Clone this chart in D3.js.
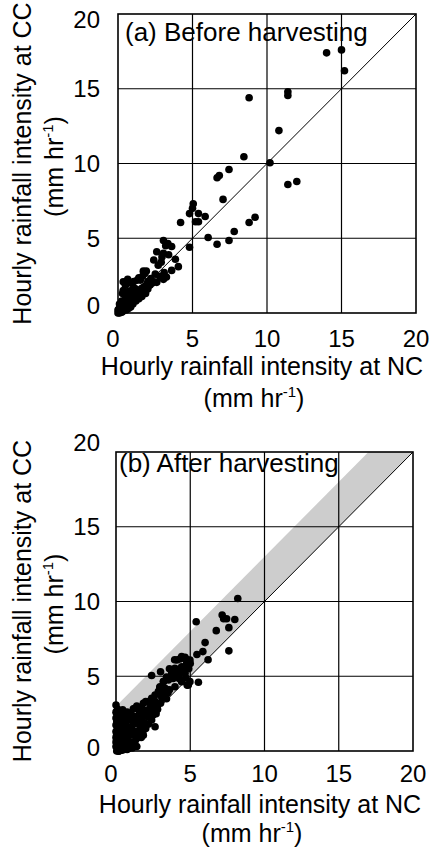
<!DOCTYPE html>
<html><head><meta charset="utf-8">
<script src="https://cdn.jsdelivr.net/npm/d3@7"></script>
<style>body{margin:0;background:#fff}svg{display:block}text{font-family:"Liberation Sans",Arial,sans-serif;fill:#000}</style>
</head><body>
<script>
// ---- data ----
const tickValues = [0, 5, 10, 15, 20];
const xTitle = "Hourly rainfall intensity at NC";
const yTitle = "Hourly rainfall intensity at CC";
const unitMain = "(mm hr", unitSup = "-1", unitEnd = ")";
const panelLabels = ["(a) Before harvesting", "(b) After harvesting"];
const bandOffset = 3; // CC = NC + 3 upper edge of grey band (panel b)

const beforeNC = [14.0,15.0,15.2,8.8,11.4,11.4,10.8,8.45,10.2,7.45,6.8,6.65,11.4,12.0,7.05,5.05,5.0,4.8,5.4,5.85,5.2,5.4,4.2,9.2,8.8,7.8,6.05,6.65,7.45,4.8,
 3.05,3.35,3.6,3.2,2.6,3.05,2.95,2.4,3.85,4.05,3.6,2.8,3.05,3.25,2.6,1.9,1.65,1.5,2.1,1.3,1.7,1.4,1.05,0.65,0.5,0.7,0.35,0.3,
 0.9,1.1,1.3,0.95,0.75,0.45,0.2,0.1,0.15,0.3,0.5,1.5,1.2,1.75,1.4,0.6,0.35,0.8,1.6,2.0,2.3,1.85,0.55,0.25,0.05,0.4,1.0,0.7,1.2,2.2,2.5,2.0,
 1.8,1.9,1.6,1.25,0.9,0.7,0.5,0.25,0.0,1.5,1.7,2.15,2.4,0.35,
 0.0,0.1,0.2,0.05,0.15,0.3,0.45,0.6,0.8,1.0,1.15,0.85,0.65,0.4,0.25,0.1,0.55,0.75,1.35,1.05,2.7,2.9,3.4,3.1];
const beforeCC = [17.4,17.6,16.2,14.4,14.8,14.55,12.2,10.45,10.05,9.6,9.2,9.05,8.6,8.8,7.6,7.3,7.0,6.65,6.65,6.45,6.1,6.1,6.05,6.4,6.05,5.45,5.05,4.6,4.85,4.4,
 4.85,4.65,4.45,4.5,4.1,4.0,3.75,3.55,3.6,3.1,2.85,2.45,2.25,2.4,2.05,2.8,2.45,2.2,1.85,2.2,2.8,2.35,2.1,2.25,1.85,2.0,1.5,1.3,
 1.5,1.3,1.1,0.95,0.75,0.85,0.5,0.3,0.15,0.1,0.4,1.4,1.6,1.75,0.95,0.6,0.4,1.2,1.1,1.6,2.0,1.3,1.1,0.8,0.05,0.2,0.6,0.3,0.8,2.3,2.6,2.1,
 2.65,1.87,1.65,1.42,1.09,0.76,0.53,0.31,0.2,1.2,1.53,1.87,2.09,2.09,
 0.0,0.0,0.1,0.25,0.35,0.2,0.25,0.45,0.55,0.9,0.85,0.4,1.0,0.6,0.05,0.6,0.2,1.45,1.0,1.7,3.2,3.4,3.9,2.7];

const afterNC = [8.2,7.15,7.25,7.45,8.0,5.4,6.75,7.6,6.0,5.85,5.45,7.6,6.2,
 4.3,4.55,4.8,5.0,4.55,4.45,4.9,3.95,3.6,3.95,3.75,3.4,3.2,3.0,2.4,4.8,5.55,2.95,3.85,4.25,4.7,
 4.1,4.42,4.65,4.98,4.76,4.42,3.97,3.75,4.2,3.53,3.19,2.96,3.3,2.85,2.63,3.08,3.53,3.97,4.42,4.87,4.98,4.65,4.31,
 1.28,1.73,2.18,2.07,1.39,0.94,0.61,0.38,0.16,0.04,0.27,0.49,0.72,0.94,1.28,1.62,1.95,2.4,2.63,1.84,1.39,1.17,0.83,
 0.0,2.4,2.18,2.52,2.74,1.84,1.17,
 0.1,0.2,0.05,0.3,0.15,0.4,0.6,0.25,0.1,0.05,0.1,0.45,0.7,0.9,1.0,1.2,0.8,0.5,0.3,0.7,1.0,1.5,1.6,2.1,1.9,1.5,1.7,1.1,0.6,1.3,2.0,2.2,2.8,2.5,3.0,2.65,3.2,3.4,3.6,2.3,2.0,1.4,
 0.0,0.0,0.05,0.2,0.35,0.55,0.75,0.15,0.4,1.05,0.85,0.3,0.6,2.7,3.1,3.5,1.8,2.35,0.0,0.1,0.45,1.4,0.25,
 0.0,0.0,0.0,0.0,0.05,0.1,0.15,0.2,0.25,0.3,0.35,0.4,0.5,0.55,0.65,0.7,0.8,0.85,0.95,1.05,1.1,1.2,1.25,1.35,1.45,1.55,1.65,1.75,1.9,2.05,2.25,2.45,
 0.2,0.35,0.5,0.65,0.8,0.95,1.1,1.3,1.5,0.15,0.3,0.45,0.6,0.75,0.9,1.05,0.2,0.4,0.6,0.8,1.0,0.25,0.5,0.75];
const afterCC = [10.2,9.1,8.85,8.85,8.8,8.65,8.05,8.25,7.25,6.65,6.45,6.7,6.1,
 6.15,6.2,6.1,5.85,5.6,5.3,5.5,6.1,5.5,5.2,4.95,4.95,4.65,5.3,5.05,4.4,4.6,4.25,4.85,4.85,4.9,
 6.09,6.31,6.27,6.09,5.86,5.64,5.53,5.2,4.97,4.75,4.64,4.3,4.19,3.97,3.74,3.63,4.08,4.3,4.64,4.42,4.64,5.2,5.31,
 2.85,2.92,2.74,2.41,2.3,2.07,1.84,1.62,1.4,1.06,0.84,0.62,0.4,1.06,1.29,1.62,1.84,2.07,1.62,1.06,0.84,0.51,0.17,
 3.08,3.52,3.3,3.19,3.08,3.19,2.83,
 0.1,0.3,0.5,0.05,0.8,0.35,0.2,1.2,1.5,2.0,2.3,1.3,0.8,0.6,1.5,1.8,1.6,2.2,2.5,2.4,2.5,2.2,2.6,2.3,2.7,1.3,0.9,0.2,1.0,1.1,1.5,1.8,2.8,2.4,3.2,3.3,3.8,3.5,4.1,2.9,3.3,3.0,
 1.74,0.6,0.0,0.0,0.1,0.3,0.15,1.0,0.9,0.45,1.3,2.0,1.75,2.5,3.6,3.9,1.3,2.1,2.6,2.8,2.75,0.3,0.05,
 0.3,0.9,1.3,2.2,0.7,1.8,0.0,0.5,1.6,1.0,2.0,0.4,1.2,0.1,1.9,0.7,1.4,0.2,2.1,1.6,0.5,1.9,2.3,1.3,2.2,1.8,2.5,2.1,2.6,2.4,2.7,2.9,
 0.6,0.9,1.2,1.5,0.3,0.6,1.1,0.7,1.0,1.7,1.9,2.1,2.4,0.1,0.2,0.4,0.0,0.05,0.2,0.35,0.3,1.6,1.8,2.6];

// ---- drawing ----
const W = 437, H = 851;
const svg = d3.select("body").append("svg").attr("width", W).attr("height", H);

const panels = [
  {nc: beforeNC, cc: beforeCC, label: panelLabels[0], left:118, right:416, top:14, bottom:313,
   band:false, labelX:125, labelY:41, xTickY:347, xT1:375, xT2:407, xTitleX:262, yCenter:163.5,
   yEndShift:{20:6, 0:-7}},
  {nc: afterNC, cc: afterCC, label: panelLabels[1], left:116, right:413, top:452, bottom:751,
   band:true, labelX:119, labelY:472, xTickY:782, xT1:813, xT2:842, xTitleX:260, yCenter:601,
   yEndShift:{20:-9, 0:-3}}
];

panels.forEach(p => {
  const x = d3.scaleLinear().domain([0, 20]).range([p.left, p.right]);
  const y = d3.scaleLinear().domain([0, 20]).range([p.bottom, p.top]);
  const g = svg.append("g");

  if (p.band) {
    const poly = [[0,0],[20,20],[20-bandOffset,20],[0,bandOffset]];
    g.append("path")
      .attr("d", d3.line().x(d => x(d[0])).y(d => y(d[1]))(poly) + "Z")
      .attr("fill", "#cdcdcd").attr("stroke", "none");
  }

  // grid
  const inner = tickValues.slice(1, -1);
  g.selectAll(".vg").data(inner).join("line")
    .attr("x1", d => x(d)).attr("x2", d => x(d)).attr("y1", p.top).attr("y2", p.bottom)
    .attr("stroke", "#000").attr("stroke-width", 1.2);
  g.selectAll(".hg").data(inner).join("line")
    .attr("y1", d => y(d)).attr("y2", d => y(d)).attr("x1", p.left).attr("x2", p.right)
    .attr("stroke", "#000").attr("stroke-width", 1.2);

  // 1:1 line
  g.append("line").attr("x1", x(0)).attr("y1", y(0)).attr("x2", x(20)).attr("y2", y(20))
    .attr("stroke", "#000").attr("stroke-width", 1);

  // frame
  g.append("rect").attr("x", p.left).attr("y", p.top)
    .attr("width", p.right - p.left).attr("height", p.bottom - p.top)
    .attr("fill", "none").attr("stroke", "#000").attr("stroke-width", 1.6);

  // points
  g.selectAll("circle").data(p.nc.map((v, i) => [v, p.cc[i]])).join("circle")
    .attr("cx", d => x(d[0])).attr("cy", d => y(d[1])).attr("r", 3.8).attr("fill", "#000");

  // panel label
  g.append("text").attr("x", p.labelX).attr("y", p.labelY).attr("font-size", 26).text(p.label);

  // tick labels
  g.selectAll(".xt").data(tickValues).join("text")
    .attr("x", d => x(d) + (d === 0 ? -5 : 0)).attr("y", p.xTickY)
    .attr("text-anchor", "middle").attr("font-size", 24).text(d => d);
  g.selectAll(".yt").data(tickValues).join("text")
    .attr("x", 100).attr("y", d => y(d) + (p.yEndShift[d] || 0))
    .attr("dy", "0.35em").attr("text-anchor", "end").attr("font-size", 24).text(d => d);

  // x title
  g.append("text").attr("x", p.xTitleX).attr("y", p.xT1).attr("text-anchor", "middle")
    .attr("font-size", 25).text(xTitle);
  const u = g.append("text").attr("x", p.xTitleX - 8).attr("y", p.xT2).attr("text-anchor", "middle")
    .attr("font-size", 25);
  u.append("tspan").text(unitMain);
  u.append("tspan").attr("dy", -10).attr("font-size", 15).text(unitSup);
  u.append("tspan").attr("dy", 10).text(unitEnd);

  // y title
  const yt = g.append("g").attr("transform", `translate(31,${p.yCenter}) rotate(-90)`);
  yt.append("text").attr("text-anchor", "middle").attr("font-size", 25).text(yTitle);
  const yu = g.append("g").attr("transform", `translate(63,${p.yCenter + 3}) rotate(-90)`)
    .append("text").attr("text-anchor", "middle").attr("font-size", 25);
  yu.append("tspan").text(unitMain);
  yu.append("tspan").attr("dy", -10).attr("font-size", 15).text(unitSup);
  yu.append("tspan").attr("dy", 10).text(unitEnd);
});
</script>
</body></html>
